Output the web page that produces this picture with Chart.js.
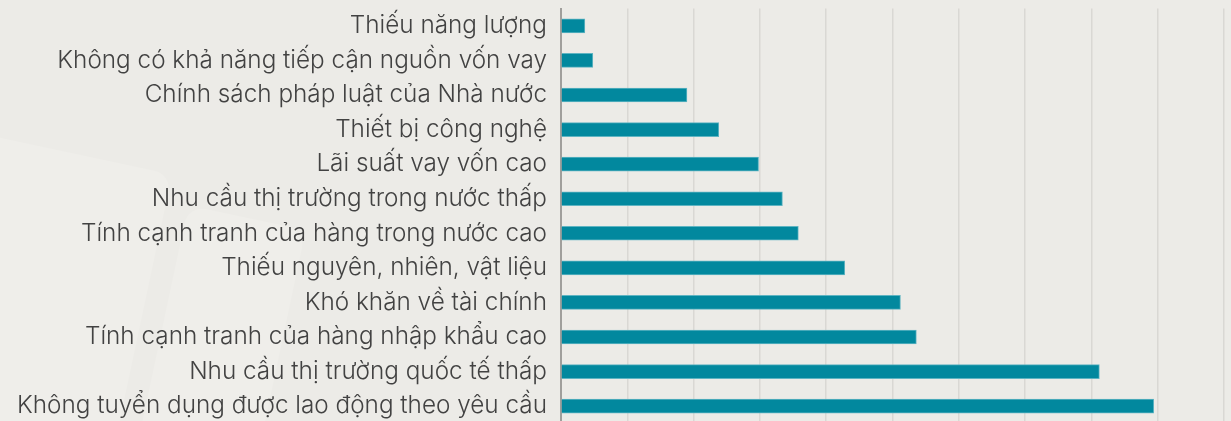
<!DOCTYPE html>
<html>
<head>
<meta charset="utf-8">
<script src="https://cdn.jsdelivr.net/npm/chart.js@4.4.1/dist/chart.umd.min.js"></script>
<style>
  html, body {
    margin: 0;
    padding: 0;
    background: #ecebe7;
    overflow: hidden;
  }
  #wrap {
    position: relative;
    width: 1231px;
    height: 421px;
  }
  #barChart {
    position: absolute;
    left: 0;
    top: -20px;
  }
  .mark {
    position: absolute;
    background: #efeeea;
    border-radius: 18px;
    transform: rotate(12deg);
  }
</style>
</head>
<body>
<div id="wrap">
  <div class="mark" style="left:-60px; top:150px; width:200px; height:330px;"></div>
  <div class="mark" style="left:160px; top:215px; width:120px; height:260px;"></div>
  <canvas id="barChart" width="1231" height="472"></canvas>
</div>
<script>
// categories, top to bottom
const categories = [
  "Thiếu năng lượng",
  "Không có khả năng tiếp cận nguồn vốn vay",
  "Chính sách pháp luật của Nhà nước",
  "Thiết bị công nghệ",
  "Lãi suất vay vốn cao",
  "Nhu cầu thị trường trong nước thấp",
  "Tính cạnh tranh của hàng trong nước cao",
  "Thiếu nguyên, nhiên, vật liệu",
  "Khó khăn về tài chính",
  "Tính cạnh tranh của hàng nhập khẩu cao",
  "Nhu cầu thị trường quốc tế thấp",
  "Không tuyển dụng được lao động theo yêu cầu"
];

// share of firms (%)
const values = [1.8, 2.4, 9.5, 11.9, 14.9, 16.7, 17.9, 21.4, 25.6, 26.8, 40.6, 44.7];

const axisMax = 50;
const axisStep = 5;

document.addEventListener("DOMContentLoaded", function () {
  const ctx = document.getElementById("barChart").getContext("2d");
  new Chart(ctx, {
    type: "bar",
    data: {
      labels: categories,
      datasets: [{
        data: values,
        backgroundColor: "#02889e",
        borderColor: "#5fb4c2",
        borderWidth: 1,
        borderSkipped: "left",
        barThickness: 14
      }]
    },
    options: {
      indexAxis: "y",
      responsive: false,
      animation: false,
      devicePixelRatio: 1,
      layout: {
        padding: { top: 0, right: 7, bottom: 6, left: 3 }
      },
      plugins: {
        legend: { display: false },
        tooltip: { enabled: false }
      },
      scales: {
        x: {
          min: 0,
          max: axisMax,
          ticks: { display: false, stepSize: axisStep },
          grid: { color: "#d9d8d4", lineWidth: 1.5, drawTicks: false },
          border: { display: false }
        },
        y: {
          ticks: {
            color: "#424242",
            padding: 14,
            font: { family: "Inter", size: 24.3, weight: 300 }
          },
          grid: { display: false, drawTicks: false },
          border: { display: true, color: "#a09f9c", width: 2 }
        }
      }
    }
  });
});
</script>
</body>
</html>
